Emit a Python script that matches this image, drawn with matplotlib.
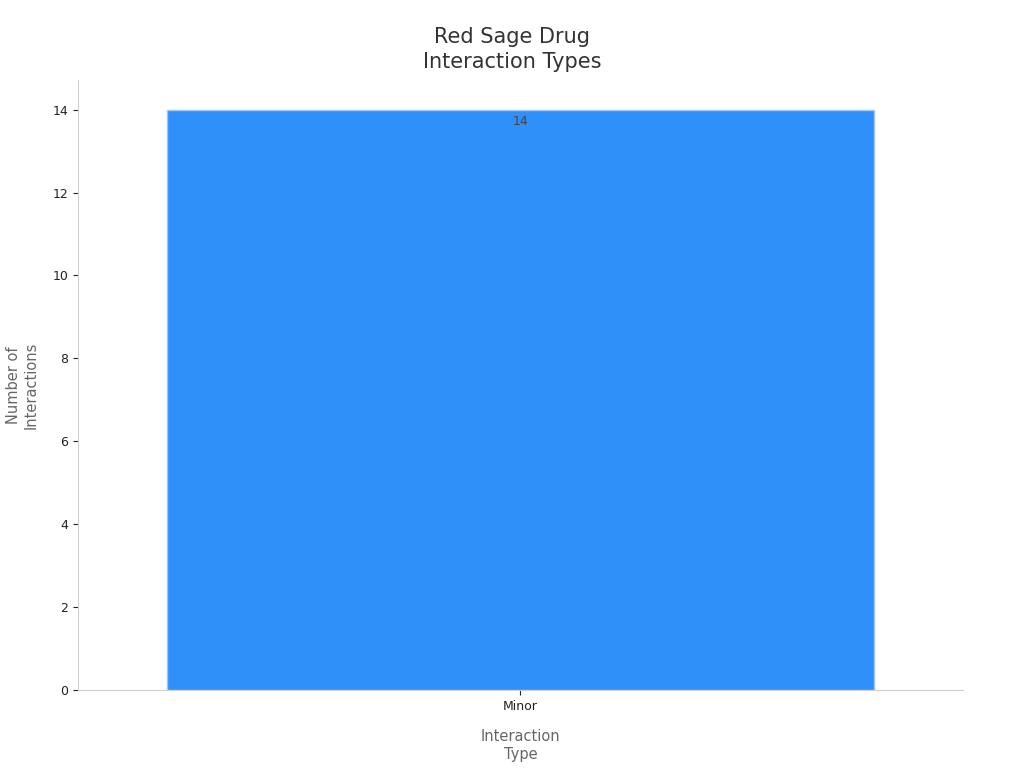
import matplotlib.pyplot as plt

categories = ["Minor"]
counts = [14]

fig = plt.figure(figsize=(10.24, 7.68), dpi=100)
ax = fig.add_axes([0.0762, 0.1016, 0.864, 0.7945])

bars = ax.bar(categories, counts, width=0.8, color="#2E90F8",
              edgecolor="#9CC8F8", linewidth=1)
for b, v in zip(bars, counts):
    ax.text(b.get_x() + b.get_width() / 2, v - 0.12, str(v),
            ha="center", va="top", fontsize=9, color="#444444")

ax.set_xlim(-0.5, 0.5)
ax.set_ylim(0, 14.72)
ax.set_yticks(range(0, 15, 2))
ax.tick_params(axis="both", labelsize=9, colors="#222222")
for s in ["top", "right"]:
    ax.spines[s].set_visible(False)
for s in ["left", "bottom"]:
    ax.spines[s].set_color("#d0d0d0")

ax.set_xlabel("Interaction\nType", fontsize=10.5, color="#666666", labelpad=12)
ax.set_ylabel("Number of\nInteractions", fontsize=10.5, color="#666666", labelpad=10)
fig.suptitle("Red Sage Drug\nInteraction Types", fontsize=15, color="#333333",
             y=0.965, linespacing=1.3)

fig.savefig("out.png", dpi=100)
